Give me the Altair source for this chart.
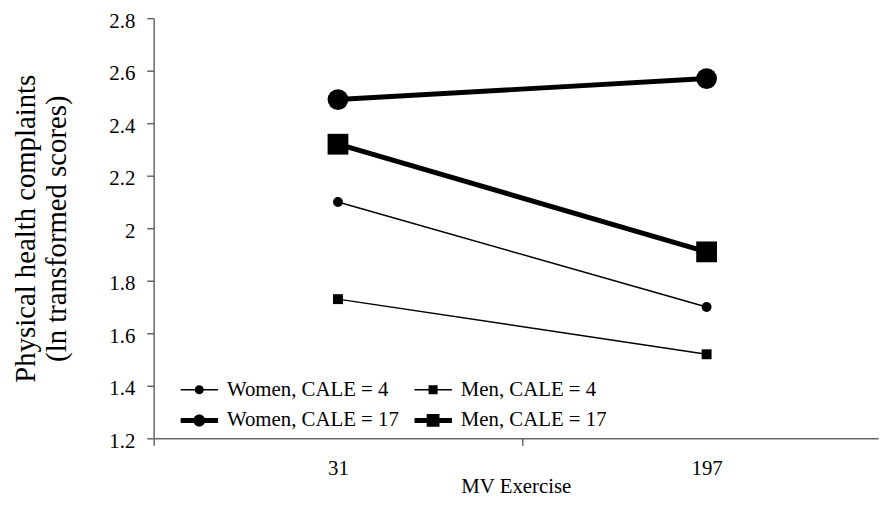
import altair as alt
import pandas as pd

exercise = ["31", "197"]
series = ["Women, CALE = 4", "Men, CALE = 4", "Women, CALE = 17", "Men, CALE = 17"]
sex = ["Women", "Men", "Women", "Men"]
cale = [4, 4, 17, 17]
at_31 = [2.10, 1.73, 2.49, 2.32]
at_197 = [1.70, 1.52, 2.57, 1.91]
y_ticks = [1.2, 1.4, 1.6, 1.8, 2.0, 2.2, 2.4, 2.6, 2.8]

FONT = "Liberation Serif"

rows = []
for i, s in enumerate(series):
    for j, v in enumerate([at_31[i], at_197[i]]):
        rows.append({"series": s, "sex": sex[i], "cale": cale[i],
                     "exercise": exercise[j], "idx": j, "value": v})
df = pd.DataFrame(rows)


def circle_sym(h, r):
    return (f"M-1,{-h}H1V{h}H-1Z"
            f"M{r},0A{r},{r},0,1,1,{-r},0A{r},{r},0,1,1,{r},0Z")


def square_sym(h, s):
    return f"M-1,{-h}H1V{h}H-1ZM{-s},{-s}H{s}V{s}H{-s}Z"


def legend_path(i):
    h = 0.13 if cale[i] == 17 else 0.04
    if sex[i] == "Women":
        return circle_sym(h, 0.32 if cale[i] == 17 else 0.24)
    return square_sym(h, 0.34 if cale[i] == 17 else 0.24)


# legend fills column by column
legend_order = [0, 2, 1, 3]
legend_domain = [series[i] for i in legend_order]
legend_paths = [legend_path(i) for i in legend_order]

label_expr = " : ".join(
    [f"datum.value === {k} ? '{lab}'" for k, lab in enumerate(exercise)]) + " : ''"

x_axis = alt.Axis(
    values=[-0.5, 0, 0.5, 1], labelExpr=label_expr, tickSize=7,
    tickOpacity={"condition": {"test": "datum.value % 1 === 0", "value": 0}, "value": 1},
    labelPadding=13, labelFont=FONT, labelFontSize=21, labelColor="black",
    labelOverlap=False, labelFlush=False, domainColor="#666", tickColor="#666",
    domainWidth=1.5, tickWidth=1.5, grid=False, titleFont=FONT, titleFontSize=21,
    titleFontWeight="normal", titleColor="black", titleY=59, titleBaseline="bottom")

y_axis = alt.Axis(
    values=y_ticks, format=".1~f", tickSize=7, labelPadding=12, labelOffset=3,
    labelFont=FONT, labelFontSize=21, labelColor="black", domainColor="#666",
    tickColor="#666", domainWidth=1.5, tickWidth=1.5, grid=False, titleFont=FONT,
    titleFontSize=29, titleLineHeight=31, titleFontWeight="normal", titleColor="black",
    titleX=-120, titleY=212, titleBaseline="alphabetic", titleAlign="center",
    titleAngle=270)

base = alt.Chart(df).encode(
    x=alt.X("idx:Q", scale=alt.Scale(domain=[-0.5, 1.465], nice=False, zero=False),
            axis=x_axis, title="MV Exercise"),
    y=alt.Y("value:Q", scale=alt.Scale(domain=[1.2, 2.8], nice=False, zero=False),
            axis=y_axis, title=["Physical health complaints", "(ln transformed scores)"]),
)

lines = base.mark_line(color="black").encode(
    detail="series:N",
    strokeWidth=alt.condition("datum.cale == 17", alt.value(5), alt.value(1.5)),
)

points = base.mark_point(filled=True, color="black", opacity=1).encode(
    shape=alt.condition("datum.sex == 'Women'", alt.value("circle"), alt.value("square")),
    size=alt.condition("datum.cale == 17", alt.value(440), alt.value(100)),
)

legend_layer = base.mark_point(filled=True, color="black", opacity=1, size=1444).encode(
    shape=alt.Shape(
        "series:N", title=None,
        scale=alt.Scale(domain=legend_domain, range=legend_paths),
        legend=alt.Legend(
            orient="none", legendX=27, legendY=363, columns=2, labelFontSize=21,
            labelFont=FONT, labelColor="black", labelLimit=400, symbolSize=1444,
            symbolStrokeWidth=0, symbolFillColor="black", labelOffset=9,
            columnPadding=15, rowPadding=7, clipHeight=24),
    )
).transform_filter("false")

chart = alt.layer(lines, points, legend_layer).properties(
    width=731, height=424,
    padding={"left": 147, "top": 8, "right": 2, "bottom": 60},
    autosize=alt.AutoSizeParams(type="none"),
).configure(font=FONT, background="white").configure_view(
    strokeWidth=0
).configure_axis(labelFont=FONT, titleFont=FONT).configure_legend(labelFont=FONT)

chart.save("out.html", embed_options={"renderer": "svg", "actions": False})
